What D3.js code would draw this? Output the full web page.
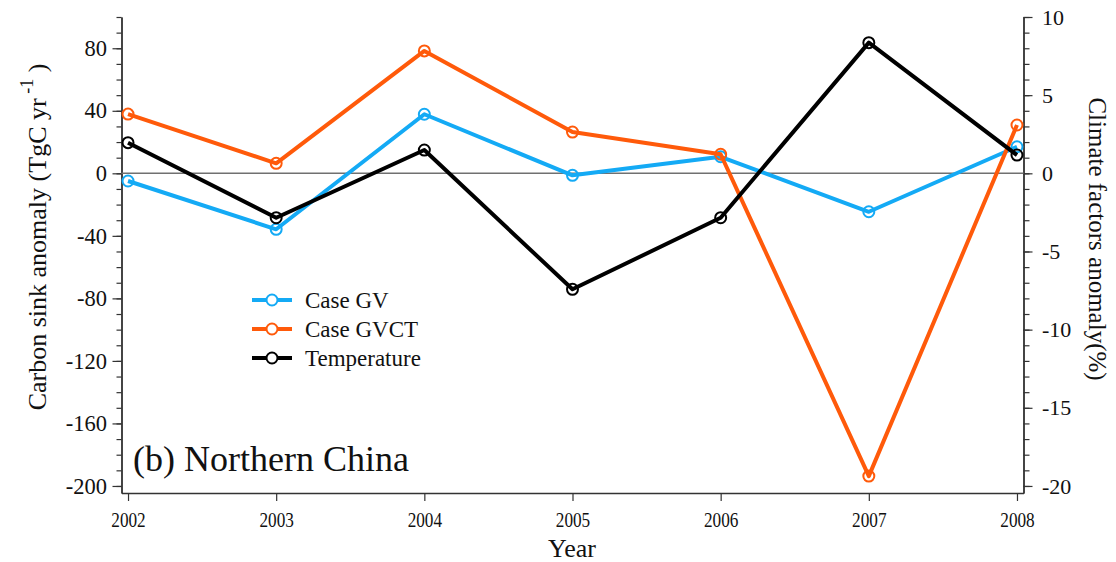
<!DOCTYPE html>
<html>
<head>
<meta charset="utf-8">
<script src="https://cdn.jsdelivr.net/npm/d3@7"></script>
<style>
  html, body { margin: 0; padding: 0; background: #fff; }
  svg { display: block; }
  svg text { font-family: "Liberation Serif", "Times New Roman", serif; }
</style>
</head>
<body>
<svg id="chart" width="1116" height="562"></svg>
<script>
// Annual anomalies, Northern China, 2002-2008
const years = [2002, 2003, 2004, 2005, 2006, 2007, 2008];
const caseGV = [-4.9, -35.8, 37.8, -1.3, 10.6, -24.6, 17.0];        // TgC yr-1
const caseGVCT = [37.9, 6.4, 78.3, 26.4, 12.2, -193.7, 30.9];       // TgC yr-1
const temperature = [1.96, -2.84, 1.49, -7.42, -2.84, 8.36, 1.17];  // %
const leftTicks = [-200, -160, -120, -80, -40, 0, 40, 80];
const rightTicks = [-20, -15, -10, -5, 0, 5, 10];

const series = [
  { name: "Case GV", values: caseGV, color: "#14aaf5", axis: "left" },
  { name: "Case GVCT", values: caseGVCT, color: "#ff5a0a", axis: "left" },
  { name: "Temperature", values: temperature, color: "#000000", axis: "right" }
];

const SERIF = "'Liberation Serif', 'Times New Roman', serif";
const svg = d3.select("#chart");
const m = { left: 121.5, right: 1023.5, top: 17, bottom: 493 };

const x = d3.scaleLinear().domain([2001.956, 2008.044]).range([m.left, m.right]);
const yL = d3.scaleLinear().domain([-204.5, 100]).range([m.bottom, m.top]);
const yR = d3.scaleLinear().domain([-20.45, 10]).range([m.bottom, m.top]);

const axisColor = "#333";

function styleAxis(size) {
  return g => {
    g.attr("font-family", SERIF);
    g.selectAll("path").attr("stroke", axisColor).attr("stroke-width", 1.4);
    g.selectAll("line").attr("stroke", axisColor).attr("stroke-width", 1.2);
    g.selectAll("text").attr("fill", "#111").style("font-size", size + "px");
  };
}

// left axis: minor ticks every 10, majors every 40
svg.append("g").attr("transform", `translate(${m.left},0)`)
  .call(d3.axisLeft(yL).tickValues(d3.range(-200, 101, 10)).tickSize(5).tickFormat("").tickSizeOuter(0))
  .call(styleAxis(22));
svg.append("g").attr("transform", `translate(${m.left},0)`)
  .call(d3.axisLeft(yL).tickValues(leftTicks).tickSize(9).tickPadding(5.5).tickFormat(d => String(d)).tickSizeOuter(0))
  .call(styleAxis(22.5));

// right axis: minor ticks every 1, majors every 5
svg.append("g").attr("transform", `translate(${m.right},0)`)
  .call(d3.axisRight(yR).tickValues(d3.range(-20, 11, 1)).tickSize(6).tickFormat("").tickSizeOuter(0))
  .call(styleAxis(22));
svg.append("g").attr("transform", `translate(${m.right},0)`)
  .call(d3.axisRight(yR).tickValues(rightTicks).tickSize(9).tickPadding(9.5).tickFormat(d => String(d)).tickSizeOuter(0))
  .call(styleAxis(22));

// bottom axis, narrow year labels
svg.append("g").attr("transform", `translate(0,${m.bottom})`)
  .call(d3.axisBottom(x).tickValues(years).tickSize(8).tickPadding(11).tickFormat(d3.format("d")).tickSizeOuter(0))
  .call(styleAxis(21))
  .call(g => g.selectAll("text").attr("transform", "scale(0.82,1)"));

// zero reference line
svg.append("line")
  .attr("x1", m.left).attr("x2", m.right)
  .attr("y1", yL(0)).attr("y2", yL(0))
  .attr("stroke", "#707070").attr("stroke-width", 1.5);

// series lines and open markers
series.forEach(s => {
  const yS = s.axis === "left" ? yL : yR;
  const line = d3.line().x((d, i) => x(years[i])).y(d => yS(d));
  svg.append("path").datum(s.values)
    .attr("d", line).attr("fill", "none")
    .attr("stroke", s.color).attr("stroke-width", 4)
    .attr("stroke-linejoin", "round");
  svg.selectAll(null).data(s.values).enter().append("circle")
    .attr("cx", (d, i) => x(years[i])).attr("cy", d => yS(d))
    .attr("r", 5.5).attr("fill", "none")
    .attr("stroke", s.color).attr("stroke-width", 2);
});

// legend
const legend = svg.append("g").attr("transform", "translate(252,300)");
series.forEach((s, i) => {
  const g = legend.append("g").attr("transform", `translate(0,${i * 29})`);
  g.append("line").attr("x1", 0).attr("x2", 40).attr("y1", 0).attr("y2", 0)
    .attr("stroke", s.color).attr("stroke-width", 4);
  g.append("circle").attr("cx", 20).attr("cy", 0).attr("r", 5.5)
    .attr("fill", "#fff").attr("stroke", s.color).attr("stroke-width", 2);
  g.append("text").attr("x", 53).attr("y", 7.5)
    .style("font-family", SERIF)
    .style("font-size", "23px").attr("fill", "#111").text(s.name);
});

// panel title
svg.append("text").attr("x", 133).attr("y", 471)
  .style("font-family", SERIF)
  .style("font-size", "36px").attr("fill", "#111").text("(b) Northern China");

// axis titles
svg.append("text").attr("x", 572).attr("y", 557).attr("text-anchor", "middle")
  .style("font-family", SERIF)
  .style("font-size", "26px").attr("fill", "#111").text("Year");

const yl = svg.append("text")
  .attr("transform", "translate(46,237) rotate(-90)")
  .attr("text-anchor", "middle")
  .style("font-family", SERIF)
  .style("font-size", "26px").attr("fill", "#111");
yl.append("tspan").text("Carbon sink anomaly (TgC yr");
yl.append("tspan").attr("dy", -13).style("font-size", "18px").text(" -1");
yl.append("tspan").attr("dy", 13).text(" )");

svg.append("text")
  .attr("transform", "translate(1089,239) rotate(90)")
  .attr("text-anchor", "middle")
  .style("font-family", SERIF)
  .style("font-size", "25px").attr("fill", "#111")
  .text("Climate factors anomaly(%)");
</script>
</body>
</html>
